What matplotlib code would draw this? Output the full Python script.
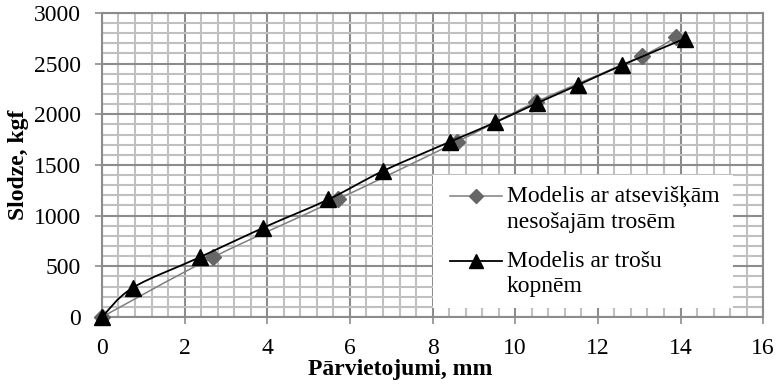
import matplotlib
matplotlib.use("Agg")
import matplotlib.pyplot as plt
from matplotlib.path import Path
from matplotlib.patches import PathPatch, Rectangle
from matplotlib.lines import Line2D
from matplotlib.legend_handler import HandlerLine2D
from matplotlib.ticker import MultipleLocator

plt.rcParams['font.family'] = ['Liberation Serif', 'DejaVu Serif']

# series 1: diamonds (gray)
x_sep = [0, 2.69, 5.7, 8.6, 10.5, 13.07, 13.9]
y_sep = [0, 590, 1160, 1730, 2120, 2575, 2765]
# series 2: triangles (black)
x_kop = [0, 0.75, 2.37, 3.9, 5.48, 6.8, 8.43, 9.52, 10.53, 11.53, 12.59, 14.1]
y_kop = [0, 290, 590, 880, 1160, 1440, 1730, 1920, 2110, 2290, 2485, 2745]

label_sep = "Modelis ar atsevišķām\nnesošajām trosēm"
label_kop = "Modelis ar trošu\nkopnēm"
xlabel = "Pārvietojumi, mm"
ylabel = "Slodze, kgf"

gray_line = '#7f7f7f'
gray_mark = '#666666'
fs = 17


def smooth_path(xs, ys):
    # catmull-rom style bezier, like spreadsheet "smoothed line"
    pts = list(zip(xs, ys))
    verts = [pts[0]]
    codes = [Path.MOVETO]
    n = len(pts)
    for i in range(n - 1):
        p0 = pts[i - 1] if i > 0 else pts[i]
        p1 = pts[i]
        p2 = pts[i + 1]
        p3 = pts[i + 2] if i + 2 < n else pts[i + 1]
        c1 = (p1[0] + (p2[0] - p0[0]) / 6, p1[1] + (p2[1] - p0[1]) / 6)
        c2 = (p2[0] - (p3[0] - p1[0]) / 6, p2[1] - (p3[1] - p1[1]) / 6)
        verts += [c1, c2, p2]
        codes += [Path.CURVE4] * 3
    return Path(verts, codes)


class FirstLineHandler(HandlerLine2D):
    # put the handle next to the first line of a two-line label
    def __init__(self, shift, **kw):
        super().__init__(**kw)
        self.shift = shift

    def create_artists(self, legend, orig_handle, xdescent, ydescent, width,
                       height, fontsize, trans):
        return super().create_artists(legend, orig_handle, xdescent,
                                      ydescent - 2 * self.shift, width, height,
                                      fontsize, trans)


fig = plt.figure(figsize=(7.78, 3.89), dpi=100)
ax = fig.add_axes([0.131, 0.185, 0.85, 0.782])

ax.set_xlim(0, 16)
ax.set_ylim(0, 3000)
ax.xaxis.set_major_locator(MultipleLocator(2))
ax.xaxis.set_minor_locator(MultipleLocator(0.4))
ax.yaxis.set_major_locator(MultipleLocator(500))
ax.yaxis.set_minor_locator(MultipleLocator(100))
ax.grid(which='minor', color='#c0c0c0', linewidth=1.5)
ax.grid(which='major', color='#8c8c8c', linewidth=1.5)
ax.set_axisbelow(True)
for s in ax.spines.values():
    s.set_color('#8c8c8c')
    s.set_linewidth(1.5)
ax.tick_params(which='major', direction='out', length=5, width=1.2, color='#8c8c8c',
               labelsize=fs)
ax.tick_params(axis='y', pad=10)
ax.tick_params(axis='x', pad=10)
ax.tick_params(which='minor', length=0)

ax.add_patch(PathPatch(smooth_path(x_sep, y_sep), fill=False, edgecolor=gray_line,
                       linewidth=1.1, zorder=3))
ax.plot(x_sep, y_sep, linestyle='none', marker='D', markersize=8,
        color=gray_mark, zorder=4, clip_on=False)
ax.add_patch(PathPatch(smooth_path(x_kop, y_kop), fill=False, edgecolor='black',
                       linewidth=1.3, zorder=5))
ax.plot(x_kop, y_kop, linestyle='none', marker='^', markersize=11,
        color='black', zorder=6, clip_on=False)

ax.set_xlabel(xlabel, fontsize=fs, fontweight='bold')
ax.set_ylabel(ylabel, fontsize=fs, fontweight='bold')
ax.xaxis.set_label_coords(0.451, -0.138)
ax.yaxis.set_label_coords(-0.111, 0.5)

# white legend area (no border)
ax.add_patch(Rectangle((433 / 778, 1 - 308 / 389), 300 / 778, 133 / 389,
                       transform=fig.transFigure, facecolor='white',
                       edgecolor='none', zorder=2.5, clip_on=False))

h_sep = Line2D([], [], color=gray_line, linewidth=1.1, marker='D', markersize=7,
               markerfacecolor=gray_mark, markeredgecolor=gray_mark)
h_kop = Line2D([], [], color='black', linewidth=1.3, marker='^', markersize=10)
leg = ax.legend([h_sep, h_kop], [label_sep, label_kop], loc='upper left',
                bbox_to_anchor=(450 / 778, 1 - 186 / 389), bbox_transform=fig.transFigure,
                fontsize=fs, frameon=False, handlelength=2.2,
                handletextpad=0.21, labelspacing=0.75, borderpad=0,
                borderaxespad=0,
                handler_map={h_sep: FirstLineHandler(9.5),
                             h_kop: FirstLineHandler(9.5)})
for t in leg.get_texts():
    t.set_linespacing(1.3)
leg.set_zorder(7)

fig.savefig('out.png', dpi=100)
